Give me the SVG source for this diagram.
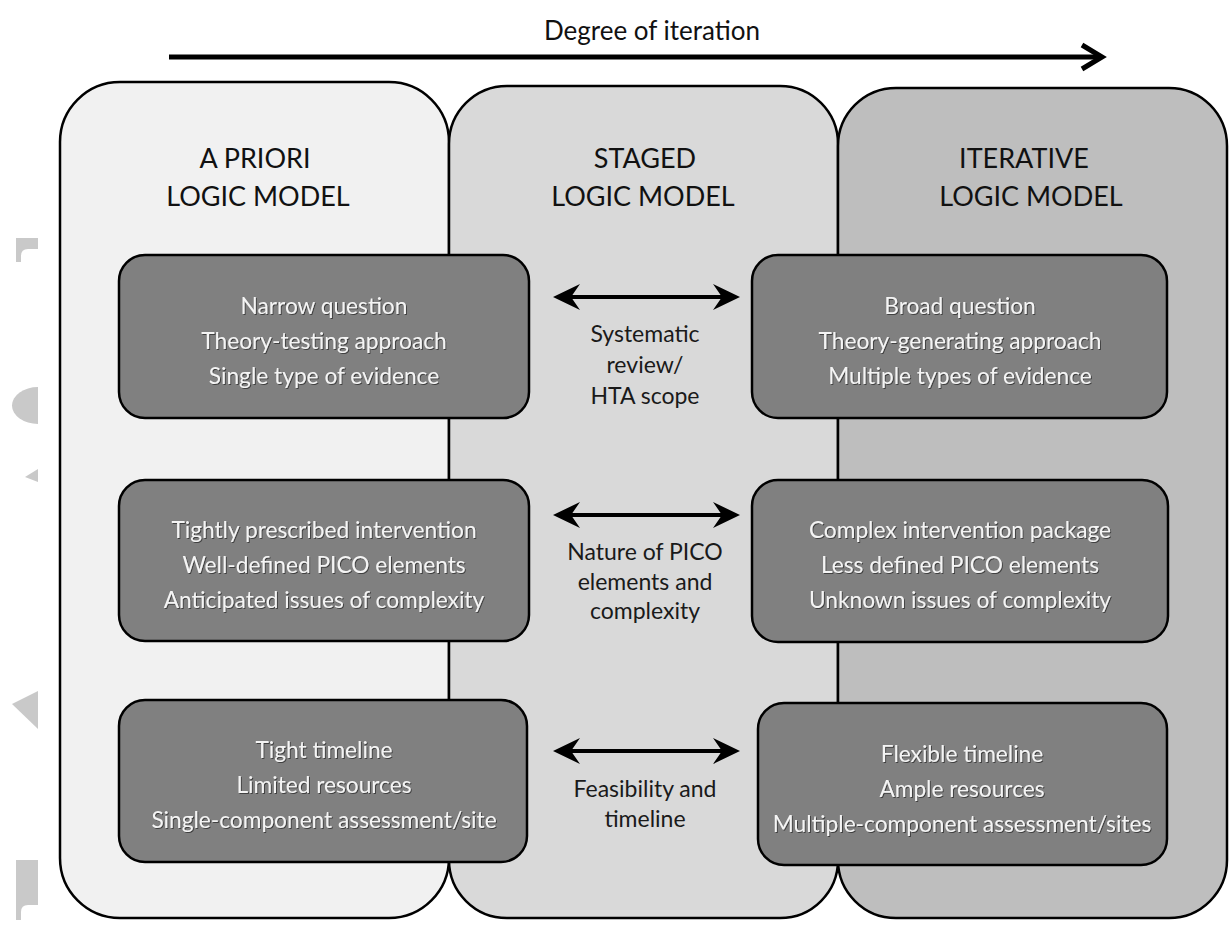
<svg xmlns="http://www.w3.org/2000/svg" width="1232" height="932" viewBox="0 0 1232 932">
  <defs>
    <style>
      .panel { stroke: #000; stroke-width: 2.5; }
      .box { fill: #808080; stroke: #000; stroke-width: 2.5; }
      .head { font-family: Lato, "Open Sans", "Liberation Sans", sans-serif; font-size: 27px; fill: #111; text-anchor: middle; }
      .item { font-family: Lato, "Open Sans", "Liberation Sans", sans-serif; font-size: 22.7px; fill: #f4f4f4; text-anchor: middle; filter: url(#shadow); }
      .lbl { font-family: Lato, "Open Sans", "Liberation Sans", sans-serif; font-size: 23px; fill: #1a1a1a; text-anchor: middle; }
      .wm { fill: #c9c9c9; }
      .dbl { stroke: #000; stroke-width: 4; fill: none; }
      .tip { fill: #000; }
    </style>
    <filter id="shadow" x="-5%" y="-20%" width="110%" height="140%">
      <feDropShadow dx="1" dy="1" stdDeviation="0.6" flood-color="#333" flood-opacity="0.8"/>
    </filter>
  </defs>

  <!-- faint marks along the left margin -->
  <g id="margin-marks">
    <path class="wm" d="M16,238 H38 V249 H28 Q21,249 21,256 V262 H16 Z"/>
    <path class="wm" d="M38,387 A26,18.5 0 0 0 38,424 Z"/>
    <path class="wm" d="M38,469 L25,477 L38,482 Z"/>
    <path class="wm" d="M12,704 L38,691 V729 Z"/>
    <path class="wm" d="M16,860 H38 V905 H28 Q21,905 21,912 V920 H16 Z"/>
  </g>

  <!-- top axis -->
  <g id="axis">
    <text class="head" x="652" y="40" style="font-size:26px">Degree of iteration</text>
    <line x1="169" y1="57" x2="1100" y2="57" stroke="#000" stroke-width="5"/>
    <polyline points="1082,45 1102,57 1082,69" fill="none" stroke="#000" stroke-width="5" stroke-linejoin="miter"/>
  </g>

  <!-- three model columns -->
  <g id="col-apriori">
    <rect class="panel" x="60" y="82" width="389" height="836" rx="60" ry="60" fill="#f1f1f1"/>
    <text class="head" x="255" y="168">A PRIORI</text>
    <text class="head" x="258" y="206">LOGIC MODEL</text>
  </g>
  <g id="col-staged">
    <rect class="panel" x="449" y="86" width="389" height="832" rx="58" ry="58" fill="#d9d9d9"/>
    <text class="head" x="645" y="168">STAGED</text>
    <text class="head" x="643" y="206">LOGIC MODEL</text>
  </g>
  <g id="col-iterative">
    <rect class="panel" x="838" y="88" width="389" height="830" rx="58" ry="58" fill="#bebebe"/>
    <text class="head" x="1024" y="168">ITERATIVE</text>
    <text class="head" x="1031" y="206">LOGIC MODEL</text>
  </g>

  <!-- a priori boxes -->
  <g id="ap-scope">
    <rect class="box" x="119" y="255" width="410" height="163" rx="26"/>
    <text class="item" x="324" y="314">Narrow question</text>
    <text class="item" x="324" y="349">Theory-testing approach</text>
    <text class="item" x="324" y="384">Single type of evidence</text>
  </g>
  <g id="ap-pico">
    <rect class="box" x="119" y="480" width="410" height="161" rx="26"/>
    <text class="item" x="324" y="538">Tightly prescribed intervention</text>
    <text class="item" x="324" y="573">Well-defined PICO elements</text>
    <text class="item" x="324" y="608">Anticipated issues of complexity</text>
  </g>
  <g id="ap-feas">
    <rect class="box" x="119" y="700" width="408" height="162" rx="26"/>
    <text class="item" x="324" y="758">Tight timeline</text>
    <text class="item" x="324" y="793">Limited resources</text>
    <text class="item" x="324" y="828">Single-component assessment/site</text>
  </g>

  <!-- iterative boxes -->
  <g id="it-scope">
    <rect class="box" x="752" y="255" width="415" height="163" rx="26"/>
    <text class="item" x="960" y="314">Broad question</text>
    <text class="item" x="960" y="349">Theory-generating approach</text>
    <text class="item" x="960" y="384">Multiple types of evidence</text>
  </g>
  <g id="it-pico">
    <rect class="box" x="752" y="480" width="416" height="162" rx="26"/>
    <text class="item" x="960" y="538">Complex intervention package</text>
    <text class="item" x="960" y="573">Less defined PICO elements</text>
    <text class="item" x="960" y="608">Unknown issues of complexity</text>
  </g>
  <g id="it-feas">
    <rect class="box" x="758" y="703" width="409" height="162" rx="26"/>
    <text class="item" x="962" y="762">Flexible timeline</text>
    <text class="item" x="962" y="797">Ample resources</text>
    <text class="item" x="962" y="832">Multiple-component assessment/sites</text>
  </g>

  <!-- two-way connectors -->
  <g id="connectors">
    <g id="c-scope">
      <line class="dbl" x1="565" y1="297" x2="728" y2="297"/>
      <path class="tip" d="M553,297 L580,284 L571,297 L580,310 Z"/>
      <path class="tip" d="M740,297 L713,284 L722,297 L713,310 Z"/>
    </g>
    <g id="c-pico">
      <line class="dbl" x1="565" y1="515" x2="728" y2="515"/>
      <path class="tip" d="M553,515 L580,502 L571,515 L580,528 Z"/>
      <path class="tip" d="M740,515 L713,502 L722,515 L713,528 Z"/>
    </g>
    <g id="c-feas">
      <line class="dbl" x1="565" y1="751" x2="728" y2="751"/>
      <path class="tip" d="M553,751 L580,738 L571,751 L580,764 Z"/>
      <path class="tip" d="M740,751 L713,738 L722,751 L713,764 Z"/>
    </g>
  </g>

  <!-- connector labels -->
  <g id="labels">
    <text class="lbl" x="645" y="342">Systematic</text>
    <text class="lbl" x="645" y="373">review/</text>
    <text class="lbl" x="645" y="404">HTA scope</text>
    <text class="lbl" x="645" y="560">Nature of PICO</text>
    <text class="lbl" x="645" y="590">elements and</text>
    <text class="lbl" x="645" y="619">complexity</text>
    <text class="lbl" x="645" y="797">Feasibility and</text>
    <text class="lbl" x="645" y="827">timeline</text>
  </g>
</svg>
